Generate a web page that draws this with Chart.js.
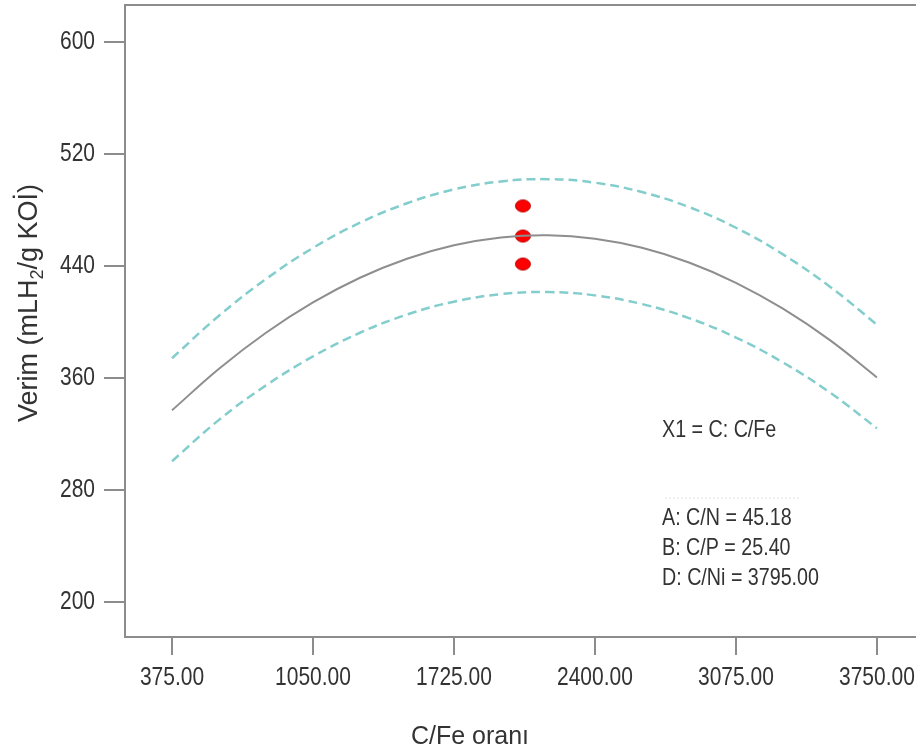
<!DOCTYPE html>
<html>
<head>
<meta charset="utf-8">
<script src="https://cdn.jsdelivr.net/npm/chart.js@4/dist/chart.umd.min.js"></script>
<style>
  html, body { margin: 0; padding: 0; background: #fff; }
  #wrap { width: 916px; height: 753px; }
</style>
</head>
<body>
<div id="wrap"><canvas id="chart" width="916" height="753"></canvas></div>
<script>
// C/Fe values where the curves were read
const cfe = [375, 600, 825, 1050, 1275, 1500, 1725, 1950, 2175, 2400, 2625, 2850, 3075, 3300, 3525, 3750];
// predicted yield (solid gray)
const yieldMean = [336.9, 366.6, 392.3, 414.0, 431.6, 445.2, 454.8, 460.4, 462.0, 459.5, 453.0, 442.5, 428.0, 409.5, 387.0, 360.4];
// confidence band (dashed)
const yieldUpper = [374.1, 404.5, 430.7, 452.9, 470.9, 484.8, 494.7, 500.4, 502.0, 499.5, 492.8, 482.1, 467.3, 448.3, 425.2, 398.1];
const yieldLower = [300.5, 330.1, 354.7, 375.4, 392.3, 405.3, 414.5, 419.9, 421.4, 419.0, 412.8, 402.8, 388.9, 371.1, 349.6, 324.1];
// design points (red)
const obsX = [2055, 2055, 2055];
const obsY = [482.9, 461.4, 441.4];

const xTicks = [375, 1050, 1725, 2400, 3075, 3750];
const yTicks = [200, 280, 360, 440, 520, 600];
const factorLines = ['A: C/N = 45.18', 'B: C/P = 25.40', 'D: C/Ni = 3795.00'];

const FONT = "'Liberation Sans', Arial, sans-serif";
const TXT = '#333333';
const AXIS = '#8c8c8c';
const TEAL = '#84cdcd';

function zip(xs, ys) {
    return xs.map((x, i) => ({ x: x, y: ys[i] }));
}

// red ellipse marker
function makeDot() {
    const c = document.createElement('canvas');
    c.width = 18; c.height = 15;
    const g = c.getContext('2d');
    g.beginPath();
    g.ellipse(9, 7.5, 7.5, 6, 0, 0, Math.PI * 2);
    g.fillStyle = '#ff0000';
    g.fill();
    g.lineWidth = 1;
    g.strokeStyle = '#b80000';
    g.stroke();
    return c;
}

// reference text is horizontally condensed
function narrowText(ctx, text, x, y, align, squeeze) {
    ctx.save();
    ctx.translate(x, y);
    ctx.scale(squeeze, 1);
    ctx.textAlign = align;
    ctx.fillText(text, 0, 0);
    ctx.restore();
}

const textPlugin = {
    id: 'texts',
    afterDraw(chart) {
        const ctx = chart.ctx;
        const a = chart.chartArea;
        const xs = chart.scales.x, ys = chart.scales.y;
        ctx.save();
        // top frame line
        ctx.strokeStyle = AXIS;
        ctx.lineWidth = 2;
        ctx.beginPath();
        ctx.moveTo(a.left, a.top);
        ctx.lineTo(a.right, a.top);
        ctx.stroke();

        ctx.fillStyle = TXT;
        ctx.textBaseline = 'middle';

        // tick labels
        ctx.font = '25px ' + FONT;
        yTicks.forEach(v => narrowText(ctx, String(v), 95, ys.getPixelForValue(v), 'right', 0.84));
        xTicks.forEach(v => narrowText(ctx, v.toFixed(2), xs.getPixelForValue(v), 678, 'center', 0.84));

        // factor settings
        ctx.font = '24px ' + FONT;
        narrowText(ctx, 'X1 = C: C/Fe', 662, 430, 'left', 0.82);
        factorLines.forEach((t, i) => narrowText(ctx, t, 662, 518 + i * 30, 'left', 0.82));

        // faint dotted separator
        ctx.strokeStyle = '#e4e4e4';
        ctx.lineWidth = 1;
        ctx.setLineDash([2, 2]);
        ctx.beginPath();
        ctx.moveTo(665, 498);
        ctx.lineTo(800, 498);
        ctx.stroke();
        ctx.setLineDash([]);

        // x title
        ctx.font = '25px ' + FONT;
        ctx.textAlign = 'center';
        ctx.fillText('C/Fe oranı', 470, 737);

        // y title, rotated, with subscript 2
        ctx.translate(30, 303);
        ctx.rotate(-Math.PI / 2);
        const p1 = 'Verim (mLH', p2 = '2', p3 = '/g KOİ)';
        const big = '27px ' + FONT, small = '18px ' + FONT;
        ctx.font = big; const w1 = ctx.measureText(p1).width, w3 = ctx.measureText(p3).width;
        ctx.font = small; const w2 = ctx.measureText(p2).width;
        let x = -(w1 + w2 + w3) / 2;
        ctx.textAlign = 'left';
        ctx.font = big; ctx.fillText(p1, x, 0); x += w1;
        ctx.font = small; ctx.fillText(p2, x, 8); x += w2;
        ctx.font = big; ctx.fillText(p3, x, 0);
        ctx.restore();
    }
};

new Chart(document.getElementById('chart'), {
    type: 'line',
    data: {
        datasets: [
            {
                label: 'Upper',
                data: zip(cfe, yieldUpper),
                borderColor: TEAL,
                borderWidth: 2.5,
                borderDash: [9, 5],
                pointRadius: 0,
                tension: 0.4,
                fill: false
            },
            {
                label: 'Lower',
                data: zip(cfe, yieldLower),
                borderColor: TEAL,
                borderWidth: 2.5,
                borderDash: [9, 5],
                pointRadius: 0,
                tension: 0.4,
                fill: false
            },
            {
                label: 'Verim',
                data: zip(cfe, yieldMean),
                borderColor: '#8e8e8e',
                borderWidth: 2,
                pointRadius: 0,
                tension: 0.4,
                fill: false
            },
            {
                type: 'scatter',
                label: 'Obs',
                data: zip(obsX, obsY),
                pointStyle: makeDot(),
                pointRadius: 8,
                showLine: false
            }
        ]
    },
    options: {
        responsive: false,
        animation: false,
        layout: { autoPadding: false, padding: { left: 0, top: 5, right: 0, bottom: 0 } },
        plugins: {
            legend: { display: false },
            tooltip: { enabled: false }
        },
        scales: {
            x: {
                type: 'linear',
                min: 150,
                max: 3937,
                afterBuildTicks: s => { s.ticks = xTicks.map(v => ({ value: v })); },
                afterFit: s => { s.height = 116; },
                grid: { display: true, drawOnChartArea: false, drawTicks: true, tickLength: 18, color: AXIS, lineWidth: 2 },
                border: { display: true, color: AXIS, width: 2 },
                ticks: { display: false }
            },
            y: {
                type: 'linear',
                min: 175,
                max: 626.4,
                afterBuildTicks: s => { s.ticks = yTicks.map(v => ({ value: v })); },
                afterFit: s => { s.width = 125; },
                grid: { display: true, drawOnChartArea: false, drawTicks: true, tickLength: 21, color: AXIS, lineWidth: 2 },
                border: { display: true, color: AXIS, width: 2 },
                ticks: { display: false }
            }
        }
    },
    plugins: [textPlugin]
});
</script>
</body>
</html>
